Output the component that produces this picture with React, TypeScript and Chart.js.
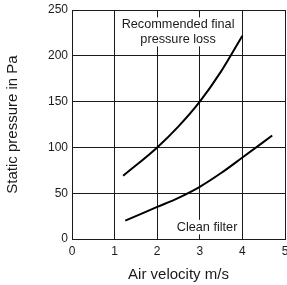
import React, { useEffect, useRef } from "react";
import { Chart, registerables } from "chart.js";

Chart.register(...registerables);

const recX = [1.2, 2, 2.5, 3, 3.5, 4];
const recY = [69, 100, 123, 150, 183, 222];
const cleanX = [1.25, 2, 2.5, 3, 3.5, 4, 4.7];
const cleanY = [20, 35, 45, 57, 72, 89, 113];
const xTicks = [0, 1, 2, 3, 4, 5];
const yTicks = [0, 50, 100, 150, 200, 250];
const labels = [
  { lines: ["Recommended final", "pressure loss"], x: 2.49, y: 234 },
  { lines: ["Clean filter"], x: 3.17, y: 13 },
];

const FONT = "'Liberation Sans', Arial, sans-serif";
const INK = "#1a1a1a";

export default function App() {
  const ref = useRef<HTMLCanvasElement | null>(null);
  useEffect(() => {
    if (!ref.current) return;
    const labelPlugin = {
      id: "labels",
      beforeDatasetsDraw(chart: any) {
        const ctx = chart.ctx;
        const xs = chart.scales.x;
        const ys = chart.scales.y;
        ctx.save();
        ctx.font = `12.7px ${FONT}`;
        ctx.textAlign = "center";
        ctx.textBaseline = "middle";
        const lh = 14.5;
        labels.forEach((l) => {
          const cx = xs.getPixelForValue(l.x);
          const cy = ys.getPixelForValue(l.y);
          l.lines.forEach((t, i) => {
            const w = ctx.measureText(t).width;
            const yy = cy + i * lh;
            ctx.fillStyle = "#fff";
            ctx.fillRect(cx - w / 2 - 2, yy - lh / 2, w + 4, lh);
          });
          l.lines.forEach((t, i) => {
            ctx.fillStyle = INK;
            ctx.fillText(t, cx, cy + i * lh);
          });
        });
        ctx.restore();
      },
    };
    const chart = new Chart(ref.current, {
      type: "line",
      data: {
        datasets: [
          {
            data: recX.map((x, i) => ({ x, y: recY[i] })),
            borderColor: "#000",
            borderWidth: 2,
            pointRadius: 0,
            cubicInterpolationMode: "monotone",
          },
          {
            data: cleanX.map((x, i) => ({ x, y: cleanY[i] })),
            borderColor: "#000",
            borderWidth: 2,
            pointRadius: 0,
            cubicInterpolationMode: "monotone",
          },
        ],
      },
      options: {
        animation: false,
        responsive: false,
        layout: { padding: { top: 10, right: 2, left: 0, bottom: 0 } },
        plugins: { legend: { display: false }, tooltip: { enabled: false } },
        scales: {
          x: {
            type: "linear",
            min: 0,
            max: 5,
            afterBuildTicks: (s: any) => {
              s.ticks = xTicks.map((v) => ({ value: v }));
            },
            afterFit: (s: any) => {
              s.height = 46;
              s.paddingLeft = 0;
              s.paddingRight = 0;
            },
            grid: { color: INK, lineWidth: 1, drawTicks: false },
            border: { color: INK, width: 1 },
            ticks: { padding: 5, color: INK, font: { family: FONT, size: 12 } },
            title: {
              display: true,
              text: "Air velocity m/s",
              color: INK,
              font: { family: FONT, size: 15 },
              padding: { top: 0, bottom: 1 },
            },
          },
          y: {
            type: "linear",
            min: 0,
            max: 250,
            afterBuildTicks: (s: any) => {
              s.ticks = yTicks.map((v) => ({ value: v }));
            },
            afterFit: (s: any) => {
              s.width = 72;
              s.paddingTop = 0;
              s.paddingBottom = 0;
            },
            grid: { color: INK, lineWidth: 1, drawTicks: false },
            border: { color: INK, width: 1 },
            ticks: { padding: 4, color: INK, font: { family: FONT, size: 12 } },
            title: {
              display: true,
              text: "Static pressure in Pa",
              color: INK,
              font: { family: FONT, size: 15 },
              padding: { top: 4, bottom: 0 },
            },
          },
        },
      },
      plugins: [labelPlugin],
    } as any);
    return () => chart.destroy();
  }, []);
  return (
    <div style={{ position: "absolute", left: 0, top: 0, width: 287, height: 285, background: "#fff" }}>
      <canvas ref={ref} width={287} height={285} style={{ display: "block" }} />
    </div>
  );
}
